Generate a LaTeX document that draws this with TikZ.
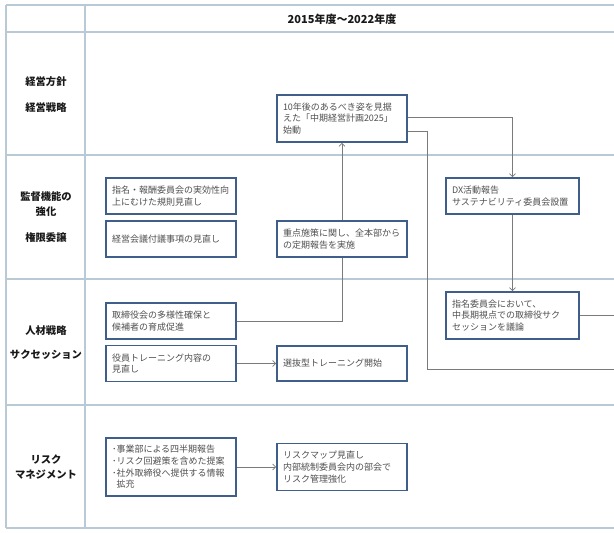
\documentclass[tikz,border=0pt]{standalone}
\usepackage{fontspec}
\setmainfont{Noto Sans CJK JP}
\usetikzlibrary{arrows.meta,positioning,backgrounds}
\definecolor{gridline}{HTML}{B7CAD6}
\definecolor{boxline}{HTML}{3F5E89}
\definecolor{wireline}{HTML}{7A7A7A}
\definecolor{boxtext}{HTML}{505050}

\begin{document}
\begin{tikzpicture}[x=1pt,y=-1pt,>={Straight Barb[length=3pt,width=6pt]},on grid,
  box/.style={draw=boxline,line width=1.6pt,fill=white,text=boxtext,
    font=\fontsize{9}{11.7}\selectfont,align=left,inner xsep=6pt,inner ysep=3pt,
    minimum width=130pt,text width=118pt,minimum height=36pt},
  widebox/.style={box,minimum width=133pt,text width=121pt},
  rowlabel/.style={font=\fontsize{10.3}{15}\selectfont\bfseries,align=center,text=black!90},
  wire/.style={draw=wireline,line width=0.8pt}]
  \useasboundingbox (0,0) rectangle (614,533);

  % header and row labels
  \node[rowlabel,font=\fontsize{11}{13}\selectfont\bfseries] (head) at (342,19) {2015年度～2022年度};
  \node[rowlabel] (lblA1) at (46,82)    {経営方針};
  \node[rowlabel] (lblA2) at (46,108)   {経営戦略};
  \node[rowlabel] (lblB1) at (46,204.5) {監督機能の\\強化};
  \node[rowlabel] (lblB2) at (46,238)   {権限委譲};
  \node[rowlabel] (lblC1) at (46,331)   {人材戦略};
  \node[rowlabel] (lblC2) at (46,355)   {サクセッション};
  \node[rowlabel] (lblD)  at (46,467)   {リスク\\マネジメント};

  % left column
  \node[box]                (B1) at (171,196)          {指名・報酬委員会の実効性向\\上にむけた規則見直し};
  \node[box]                (B2) [below=43pt of B1]    {経営会議付議事項の見直し};
  \node[box]                (B3) [below=82pt of B2]    {取締役会の多様性確保と\\候補者の育成促進};
  \node[box]                (B4) [below=42.5pt of B3]  {役員トレーニング内容の\\見直し};
  \node[box,minimum height=58pt] (B5) [below=103.5pt of B4] {･事業部による四半期報告\\･リスク回避策を含めた提案\\･社外取締役へ提供する情報\\\hspace*{0.5em}拡充};

  % middle column
  \node[box,minimum height=47pt] (plan) at (342,118.5) {10年後のあるべき姿を見据\\えた「中期経営計画2025」\\始動};
  \node[box]                (key)  [right=171pt of B2] {重点施策に関し、全本部から\\の定期報告を実施};
  \node[box,minimum height=35pt] (sel) [right=171pt of B4] {選抜型トレーニング開始};
  \node[box,minimum height=47pt] (rmap) [right=171pt of B5] {リスクマップ見直し\\内部統制委員会内の部会で\\リスク管理強化};

  % right column
  \node[widebox]            (DX)   at (512.5,196)      {DX活動報告\\サステナビリティ委員会設置};
  \node[widebox,minimum height=47pt] (nom) [below=119.5pt of DX] {指名委員会において、\\中長期視点での取締役サク\\セッションを議論};

  \coordinate (cornerB) at (427,369);
  \coordinate (edgeB)   at (614,369);
  \coordinate (edgeA)   at (614,315.5);

  \begin{scope}[on background layer]
    \foreach \y in {5,32,155,279,405,528}
      \draw[gridline,line width=1.2pt] (6,\y) -- (614,\y);
    \foreach \x in {6,85}
      \draw[gridline,line width=1.2pt] (\x,5) -- (\x,528);

    \draw[wire,->] (B3.east) -| (plan.south);
    \draw[wire,->] ([yshift=1.5pt]plan.east) -| (DX.north);
    \draw[wire] ([yshift=-12.5pt]plan.east) -| (cornerB) -- (edgeB);
    \draw[wire] (nom.east) -- (edgeA);
    \path (DX) edge [wire,->] (nom)
          (B4) edge [wire,->] (sel)
          (B5) edge [wire,->] (rmap);
  \end{scope}
\end{tikzpicture}
\end{document}
